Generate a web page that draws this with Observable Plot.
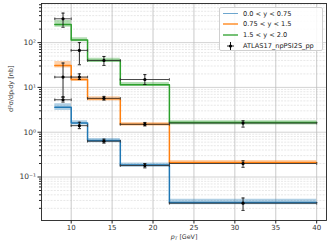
<!DOCTYPE html>
<html>
<head>
<meta charset="utf-8">
<script src="https://cdn.jsdelivr.net/npm/d3@7"></script>
<script src="https://cdn.jsdelivr.net/npm/@observablehq/plot@0.6"></script>
<style>
  html, body { margin: 0; padding: 0; background: #fff; }
  #wrap { position: relative; width: 329px; height: 242px; font-family: "DejaVu Sans", sans-serif; }
  #legend { position: absolute; left: 219px; top: 7px; width: 104px; height: 44px; box-sizing: border-box;
    border: 1px solid #d0d0d0; border-radius: 2px; background: rgba(255,255,255,0.85); font-size: 6.6px; color: #222; }
  .row { position: absolute; left: 3px; height: 10px; display: flex; align-items: center; }
  .sw { width: 15px; height: 1.5px; margin-right: 5px; opacity: 0.65; }
</style>
</head>
<body>
<div id="wrap"></div>
<script>
// Bin edges and centres (pT, GeV)
const edges = [8, 10, 12, 16, 22, 40];
const centers = [9, 11, 14, 19, 31];

const seriesNames = ["0.0 < y < 0.75", "0.75 < y < 1.5", "1.5 < y < 2.0"];
const seriesColors = ["#1f77b4", "#ff7f0e", "#2ca02c"];

// Theory prediction (central, lower, upper) per bin
const theoryBlue = [3.6, 1.6, 0.65, 0.185, 0.027];
const theoryBlueLo = [3.05, 1.45, 0.58, 0.165, 0.024];
const theoryBlueHi = [4.3, 1.8, 0.72, 0.205, 0.032];
const theoryOrange = [31, 15, 5.6, 1.5, 0.21];
const theoryOrangeLo = [27, 13.5, 5.0, 1.35, 0.19];
const theoryOrangeHi = [38, 17, 6.2, 1.65, 0.235];
const theoryGreen = [255, 115, 40, 11.5, 1.65];
const theoryGreenLo = [220, 105, 36, 10.5, 1.45];
const theoryGreenHi = [310, 128, 45, 12.8, 1.8];

// ATLAS17_npPSI2S_pp data (value, lower, upper)
const dataBlue = [5.3, 1.4, 0.63, 0.18, 0.026];
const dataBlueLo = [4.7, 1.2, 0.57, 0.16, 0.018];
const dataBlueHi = [6.2, 1.67, 0.7, 0.2, 0.034];
const dataOrange = [17, 17, 5.7, 1.5, 0.2];
const dataOrangeLo = [6, 15, 5.2, 1.38, 0.165];
const dataOrangeHi = [35, 20, 6.3, 1.65, 0.23];
const dataGreen = [340, 67, 40, 15, 1.6];
const dataGreenLo = [220, 32, 31, 11.6, 1.3];
const dataGreenHi = [455, 100, 49, 19.3, 1.8];

const xTicks = [10, 15, 20, 25, 30, 35, 40];
const yMajor = [0.1, 1, 10, 100];
const yTickLabels = ["10⁻¹", "10⁰", "10¹", "10²"];

const theory = [
  [theoryBlue, theoryBlueLo, theoryBlueHi],
  [theoryOrange, theoryOrangeLo, theoryOrangeHi],
  [theoryGreen, theoryGreenLo, theoryGreenHi]
];
const data = [
  [dataBlue, dataBlueLo, dataBlueHi],
  [dataOrange, dataOrangeLo, dataOrangeHi],
  [dataGreen, dataGreenLo, dataGreenHi]
];

// step tables: repeat last value at final edge
const stepRows = [];
theory.forEach(([c, lo, hi], s) => {
  edges.forEach((e, i) => {
    const j = Math.min(i, c.length - 1);
    stepRows.push({s, x: e, y: c[j], lo: lo[j], hi: hi[j]});
  });
});
const pts = [];
data.forEach(([v, lo, hi], s) => {
  centers.forEach((x, i) => pts.push({s, x, x1: edges[i], x2: edges[i + 1], y: v[i], lo: lo[i], hi: hi[i]}));
});

const yMinor = [];
for (let k = -2; k <= 2; k++) for (let m = 2; m <= 9; m++) {
  const v = m * Math.pow(10, k);
  if (v > 0.0107 && v < 746) yMinor.push(v);
}

const cap = {draw(ctx, size) { const r = Math.sqrt(size / Math.PI); ctx.moveTo(-r, 0); ctx.lineTo(r, 0); }};
const capV = {draw(ctx, size) { const r = Math.sqrt(size / Math.PI); ctx.moveTo(0, -r); ctx.lineTo(0, r); }};

const marks = [
  Plot.ruleY(yMinor, {stroke: "#d9d9d9", strokeWidth: 0.6, strokeDasharray: "2,1.2"}),
  Plot.ruleY(yMajor, {stroke: "#c8c8c8", strokeWidth: 0.8}),
  Plot.ruleX(xTicks, {stroke: "#bdbdbd", strokeWidth: 0.8}),
];
[0, 1, 2].forEach(s => {
  const rows = stepRows.filter(d => d.s === s);
  marks.push(Plot.areaY(rows, {x: "x", y1: "lo", y2: "hi", curve: "step-after", fill: seriesColors[s], fillOpacity: 0.35}));
  marks.push(Plot.line(rows, {x: "x", y: "y", curve: "step-after", stroke: seriesColors[s], strokeWidth: 1.5}));
});
marks.push(
  Plot.ruleY(pts, {y: "y", x1: "x1", x2: "x2", stroke: "#333", strokeWidth: 0.9}),
  Plot.ruleX(pts, {x: "x", y1: "lo", y2: "hi", stroke: "#111", strokeWidth: 0.9}),
  Plot.dot(pts, {x: "x", y: "lo", symbol: cap, r: 1.6, stroke: "#111", strokeWidth: 0.9, fill: "none"}),
  Plot.dot(pts, {x: "x", y: "hi", symbol: cap, r: 1.6, stroke: "#111", strokeWidth: 0.9, fill: "none"}),
  Plot.dot(pts, {x: "x1", y: "y", symbol: capV, r: 1.3, stroke: "#333", strokeWidth: 0.9, fill: "none"}),
  Plot.dot(pts, {x: "x2", y: "y", symbol: capV, r: 1.3, stroke: "#333", strokeWidth: 0.9, fill: "none"}),
  Plot.dot(pts, {x: "x", y: "y", r: 1.6, fill: "#000", stroke: "none"}),
  Plot.frame({stroke: "#222", strokeWidth: 0.9}),
  Plot.axisX(xTicks, {tickSize: 3.5, tickPadding: 1.5, fontSize: 7, stroke: "#222", fill: "#333", label: null}),
  Plot.axisY(yMajor, {tickSize: 3.5, tickPadding: 2, fontSize: 7.5, stroke: "#222", fill: "#333",
    tickFormat: (d, i) => yTickLabels[yMajor.indexOf(d)], label: null}),
  Plot.axisY(yMinor, {tickSize: 2, text: null, stroke: "#222", label: null}),
  Plot.text(["d²σ/dp\u209Cdy [nb]"], {frameAnchor: "left", dx: -31, rotate: -90, fontSize: 6.5, fill: "#333"}),
  Plot.text(["pT [GeV]"], {frameAnchor: "bottom", dy: 18.5, fontSize: 6.3, fill: "#333", fontStyle: "italic"})
);

const chart = Plot.plot({
  width: 329, height: 242,
  marginLeft: 41, marginRight: 3, marginTop: 3, marginBottom: 22,
  style: {fontFamily: "DejaVu Sans, sans-serif", background: "#fff"},
  x: {domain: [6.37, 41.2]},
  y: {type: "log", domain: [0.0107, 746]},
  marks
});
// Replace plain "pT" with subscripted text
const wrap = document.getElementById("wrap");
wrap.appendChild(chart);
chart.querySelectorAll("text").forEach(t => {
  if (t.textContent === "pT [GeV]") {
    t.textContent = "";
    const a = document.createElementNS("http://www.w3.org/2000/svg", "tspan"); a.textContent = "p";
    const b = document.createElementNS("http://www.w3.org/2000/svg", "tspan"); b.textContent = "T"; b.setAttribute("font-size", "4.5"); b.setAttribute("dy", "1");
    const c = document.createElementNS("http://www.w3.org/2000/svg", "tspan"); c.textContent = " [GeV]"; c.setAttribute("dy", "-1"); c.setAttribute("font-style", "normal");
    t.append(a, b, c);
  }
});

// Legend
const legend = document.createElement("div");
legend.id = "legend";
seriesNames.forEach((n, i) => {
  const r = document.createElement("div");
  r.className = "row"; r.style.top = (0.5 + i * 10.7) + "px";
  r.innerHTML = `<span class="sw" style="background:${seriesColors[i]}"></span><span>${n}</span>`;
  legend.appendChild(r);
});
const r4 = document.createElement("div");
r4.className = "row"; r4.style.top = (0.5 + 3 * 10.7) + "px";
r4.innerHTML = `<svg width="15" height="10" style="margin-right:5px"><line x1="4" x2="11" y1="5" y2="5" stroke="#222" stroke-width="1"/><line x1="7.5" x2="7.5" y1="1" y2="9" stroke="#111" stroke-width="1"/><circle cx="7.5" cy="5" r="1.6" fill="#000"/></svg><span>ATLAS17_npPSI2S_pp</span>`;
legend.appendChild(r4);
wrap.appendChild(legend);
</script>
</body>
</html>
